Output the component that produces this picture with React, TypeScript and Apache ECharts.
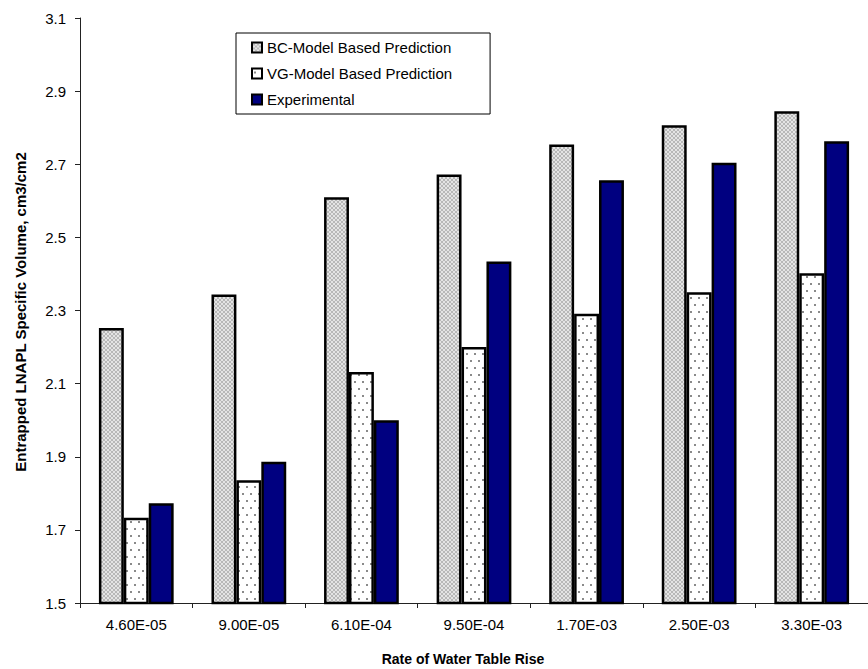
import React, { useEffect, useRef } from "react";
import * as echarts from "echarts";

const categories = ["4.60E-05", "9.00E-05", "6.10E-04", "9.50E-04", "1.70E-03", "2.50E-03", "3.30E-03"];
const bcValues = [2.252, 2.344, 2.61, 2.672, 2.754, 2.807, 2.845];
const vgValues = [1.733, 1.836, 2.132, 2.2, 2.291, 2.35, 2.402];
const expValues = [1.773, 1.886, 2.0, 2.434, 2.656, 2.704, 2.763];
const yTicks = [1.5, 1.7, 1.9, 2.1, 2.3, 2.5, 2.7, 2.9, 3.1];
const seriesNames = ["BC-Model Based Prediction", "VG-Model Based Prediction", "Experimental"];

const FONT = "'Liberation Sans', Arial, sans-serif";

function makeCrossHatch(): HTMLCanvasElement {
  const c = document.createElement("canvas");
  c.width = 4;
  c.height = 4;
  const ctx = c.getContext("2d")!;
  ctx.fillStyle = "#e4e4e4";
  ctx.fillRect(0, 0, 4, 4);
  ctx.fillStyle = "#b8b8b8";
  const pts = [[0, 0], [1, 1], [2, 2], [3, 3], [3, 0], [2, 1], [1, 2], [0, 3]];
  pts.forEach(([x, y]) => ctx.fillRect(x, y, 1, 1));
  return c;
}

function makeDots(): HTMLCanvasElement {
  const c = document.createElement("canvas");
  c.width = 8;
  c.height = 14;
  const ctx = c.getContext("2d")!;
  ctx.fillStyle = "#ffffff";
  ctx.fillRect(0, 0, 8, 14);
  ctx.fillStyle = "#8a8a8a";
  ctx.fillRect(2, 3, 2, 2);
  ctx.fillRect(6, 10, 2, 2);
  return c;
}

export default function App() {
  const ref = useRef<HTMLDivElement>(null);
  useEffect(() => {
    if (!ref.current) return;
    const chart = echarts.init(ref.current, null, { renderer: "svg" });
    const bcPattern = { image: makeCrossHatch(), repeat: "repeat" };
    const vgPattern = { image: makeDots(), repeat: "repeat" };
    const colors: any[] = [bcPattern, vgPattern, "#000080"];
    const data = [bcValues, vgValues, expValues];
    chart.setOption({
      animation: false,
      backgroundColor: "#ffffff",
      textStyle: { fontFamily: FONT },
      grid: { left: 80, top: 18, right: -13, bottom: 66, containLabel: false },
      legend: {
        orient: "vertical",
        left: 236,
        top: 33,
        data: seriesNames,
        itemWidth: 10,
        itemHeight: 10,
        itemGap: 11,
        padding: [7, 38, 7, 15],
        borderColor: "#000",
        borderWidth: 1,
        backgroundColor: "#fff",
        textStyle: { fontSize: 15, color: "#000", fontFamily: FONT },
        itemStyle: { borderColor: "#000", borderWidth: 2 },
        icon: "rect",
      },
      xAxis: {
        type: "category",
        data: categories,
        axisLine: { lineStyle: { color: "#222", width: 1 } },
        axisTick: { show: true, length: 5, lineStyle: { color: "#222" } },
        axisLabel: { fontSize: 15, color: "#000", margin: 14, fontFamily: FONT },
        splitLine: { show: false },
      },
      yAxis: {
        type: "value",
        min: 1.5,
        max: 3.1,
        axisLine: { show: true, lineStyle: { color: "#222", width: 1 } },
        axisTick: { show: true, length: 5, customValues: yTicks, lineStyle: { color: "#222" } },
        axisLabel: {
          fontSize: 15,
          color: "#000",
          margin: 14,
          fontFamily: FONT,
          customValues: yTicks,
          formatter: (v: number) => v.toFixed(1),
        },
        splitLine: { show: false },
      },
      series: seriesNames.map((name, i) => ({
        name,
        type: "bar",
        data: data[i],
        barGap: "0%",
        barCategoryGap: "33.6%",
        itemStyle: { color: colors[i], borderColor: "#000", borderWidth: 2.5 },
      })),
      graphic: [
        {
          type: "text",
          x: 20,
          y: 312,
          rotation: Math.PI / 2,
          style: {
            text: "Entrapped LNAPL Specific Volume, cm3/cm2",
            font: `bold 15px ${FONT}`,
            fill: "#000",
            textAlign: "center",
            textVerticalAlign: "middle",
          },
        },
        {
          type: "text",
          x: 463,
          y: 659,
          style: {
            text: "Rate of Water Table Rise",
            font: `bold 14px ${FONT}`,
            fill: "#000",
            textAlign: "center",
            textVerticalAlign: "middle",
          },
        },
      ],
    });
    return () => chart.dispose();
  }, []);
  return (
    <div
      ref={ref}
      style={{ position: "fixed", left: 0, top: 0, width: 868, height: 669, background: "#fff" }}
    />
  );
}
